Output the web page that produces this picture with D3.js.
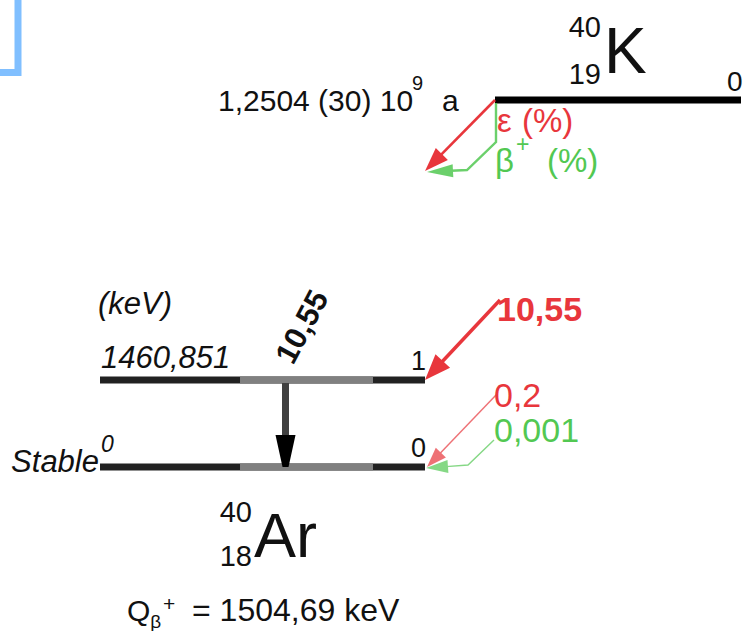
<!DOCTYPE html>
<html>
<head>
<meta charset="utf-8">
<script src="https://cdn.jsdelivr.net/npm/d3@7"></script>
<style>
  html, body { margin: 0; padding: 0; background: #fff; overflow: hidden; }
  svg { display: block; font-family: "Liberation Sans", Arial, sans-serif; }
</style>
</head>
<body>
<script>
// ---- 40K -> 40Ar decay scheme ----
const parentNuclide = ["40", "19", "K"];          // A, Z, symbol
const parentLevel = ["0"];                          // parent level energy (keV)
const halfLife = ["1,2504 (30) 10", "9", "a"];      // mantissa, exponent, unit
const daughterNuclide = ["40", "18", "Ar"];
const levelNumbers = ["0", "1"];                    // daughter level index
const levelEnergies = ["0", "1460,851"];            // daughter level energy (keV)
const branchNames = ["ε", "β", "+", "(%)"];
const ecIntensities = [0.2, 10.55];                 // ε feeding of level 0, level 1
const betaPlusIntensities = [0.001, null];          // β+ feeding of level 0, level 1
const gammaIntensities = [10.55];                   // 1 -> 0 transition
const qValue = ["1504,69", "keV"];

const W = 743, H = 631;
const RED = "#e8363c", GREEN = "#52c852";

const svg = d3.select("body").append("svg").attr("width", W).attr("height", H);

// level positions: index -> y, fraction along level -> x
const yLevel = d3.scalePoint().domain(levelNumbers).range([467, 380]);
const xLevel = d3.scaleLinear().domain([0, 1]).range([100, 425]);
const xParent = d3.scaleLinear().domain([0, 1]).range([495, 741]);
const yParent = 100;
const arrowWidth = d3.scaleLinear().domain([0, 10.55]).range([1.4, 3.4]);

// arrow: polyline ending with a filled head
function arrow(points, color, width, headLen, headW, opacity) {
  const n = points.length;
  const [x1, y1] = points[n - 2], [x2, y2] = points[n - 1];
  const len = Math.hypot(x2 - x1, y2 - y1);
  const ux = (x2 - x1) / len, uy = (y2 - y1) / len;
  const bx = x2 - ux * headLen, by = y2 - uy * headLen;
  const line = points.slice(0, n - 1).concat([[bx + ux * 2, by + uy * 2]]);
  const g = svg.append("g").attr("opacity", opacity == null ? 1 : opacity);
  g.append("path").attr("d", d3.line()(line)).attr("fill", "none")
    .attr("stroke", color).attr("stroke-width", width);
  g.append("path").attr("d", d3.line()([
      [x2, y2],
      [bx - uy * headW / 2, by + ux * headW / 2],
      [bx + uy * headW / 2, by - ux * headW / 2]
    ]) + "Z").attr("fill", color);
}

function txt(x, y, s, size, opts) {
  opts = opts || {};
  return svg.append("text").attr("x", x).attr("y", y).text(s)
    .attr("font-size", size)
    .attr("fill", opts.fill || "#111")
    .attr("font-style", opts.italic ? "italic" : null)
    .attr("font-weight", opts.bold ? "bold" : null)
    .attr("text-anchor", opts.anchor || "start");
}
function span(t, s, size, attrs) {
  const sp = t.append("tspan").text(s).attr("font-size", size);
  Object.entries(attrs || {}).forEach(([k, v]) => sp.attr(k, v));
  return sp;
}

// corner frame
svg.append("path").attr("d", "M18,0V72.5H0").attr("fill", "none")
  .attr("stroke", "#80bfff").attr("stroke-width", 7);

// ---- parent ----
txt(601, 37, parentNuclide[0], 29, { anchor: "end" });
txt(601, 84, parentNuclide[1], 29, { anchor: "end" });
txt(604, 73, parentNuclide[2], 64);
svg.append("line").attr("x1", xParent(0)).attr("x2", xParent(1))
  .attr("y1", yParent).attr("y2", yParent).attr("stroke", "#000").attr("stroke-width", 7);
txt(727, 91, parentLevel[0], 28);

const hl = txt(218, 111, halfLife[0], 30);
span(hl, halfLife[1], 20, { dy: -21, x: 412 });
span(hl, halfLife[2], 30, { dy: 21, x: 442 });

// branch legend arrows
const p0 = [xParent(0), yParent];
arrow([p0, [425, 171]], RED, 2.6, 24, 17);
arrow([[p0[0] + 1, yParent + 3], [p0[0] + 1, 142], [467, 170], [427, 172]], GREEN, 2.4, 26, 13, 0.85);
const ec = txt(497, 132, branchNames[0], 33, { fill: RED });
span(ec, branchNames[3], 33, { x: 522 });
const bp = txt(495, 172, branchNames[1], 33, { fill: GREEN });
span(bp, branchNames[2], 23, { dy: -20, x: 516 });
span(bp, branchNames[3], 33, { dy: 20, x: 547 });

// ---- daughter levels ----
const grayFrom = 0.4308, grayTo = 0.84, gammaAt = 0.5708;
levelNumbers.forEach((lv, i) => {
  const yy = yLevel(lv);
  svg.append("line").attr("x1", xLevel(0)).attr("x2", xLevel(1))
    .attr("y1", yy).attr("y2", yy).attr("stroke", "#222").attr("stroke-width", 7);
  svg.append("line").attr("x1", xLevel(grayFrom)).attr("x2", xLevel(grayTo))
    .attr("y1", yy).attr("y2", yy).attr("stroke", "#808080").attr("stroke-width", 7);
  txt(xLevel(1) - 14, yy - 10, lv, 27);
});

txt(98, 314, "(keV)", 31, { italic: true });
txt(101, 368, levelEnergies[1], 31, { italic: true });
txt(99, 472, "Stable", 31, { italic: true, anchor: "end" });
txt(101, 452, levelEnergies[0], 23, { italic: true });

// gamma transition 1 -> 0
const gx = xLevel(gammaAt);
svg.append("line").attr("x1", gx).attr("x2", gx)
  .attr("y1", yLevel("1") + 3).attr("y2", yLevel("0") - 28)
  .attr("stroke", "#404040").attr("stroke-width", 7);
svg.append("path").attr("d", d3.line()([
  [gx - 10, yLevel("0") - 32], [gx + 10, yLevel("0") - 32], [gx + 3, yLevel("0")], [gx - 3, yLevel("0")]
]) + "Z").attr("fill", "#000");
svg.append("text").attr("transform", `translate(293,366) rotate(-62)`)
  .attr("font-size", 31).attr("font-weight", "bold").attr("fill", "#111")
  .text(gammaIntensities[0].toFixed(2).replace(".", ","));

// feeding arrows and intensities
const fmt = v => String(v).replace(".", ",");
// ε to level 1
txt(497, 321, fmt(ecIntensities[1]), 34, { fill: RED, bold: true });
arrow([[500, 300], [xLevel(1), yLevel("1")]], RED, arrowWidth(ecIntensities[1]), 26, 20);
// ε to level 0
txt(494, 407, fmt(ecIntensities[0]), 34, { fill: RED });
arrow([[497, 394], [xLevel(1) + 2, yLevel("0")]], RED, arrowWidth(ecIntensities[0]), 20, 14, 0.7);
// β+ to level 0
txt(494, 442, fmt(betaPlusIntensities[0]), 34, { fill: GREEN });
arrow([[494, 440], [468, 465], [xLevel(1) + 1, yLevel("0") + 1]], GREEN, arrowWidth(betaPlusIntensities[0]), 22, 13, 0.7);

// ---- daughter nuclide ----
txt(252, 522, daughterNuclide[0], 29, { anchor: "end" });
txt(252, 566, daughterNuclide[1], 29, { anchor: "end" });
txt(254, 557, daughterNuclide[2], 63);

// Q value
const q = txt(127, 621, "Q", 30);
span(q, "β", 19, { dy: 7 });
span(q, "+", 21, { dy: -17, x: 163 });
span(q, "= " + qValue[0] + " " + qValue[1], 32, { dy: 10, x: 192 });
</script>
</body>
</html>
